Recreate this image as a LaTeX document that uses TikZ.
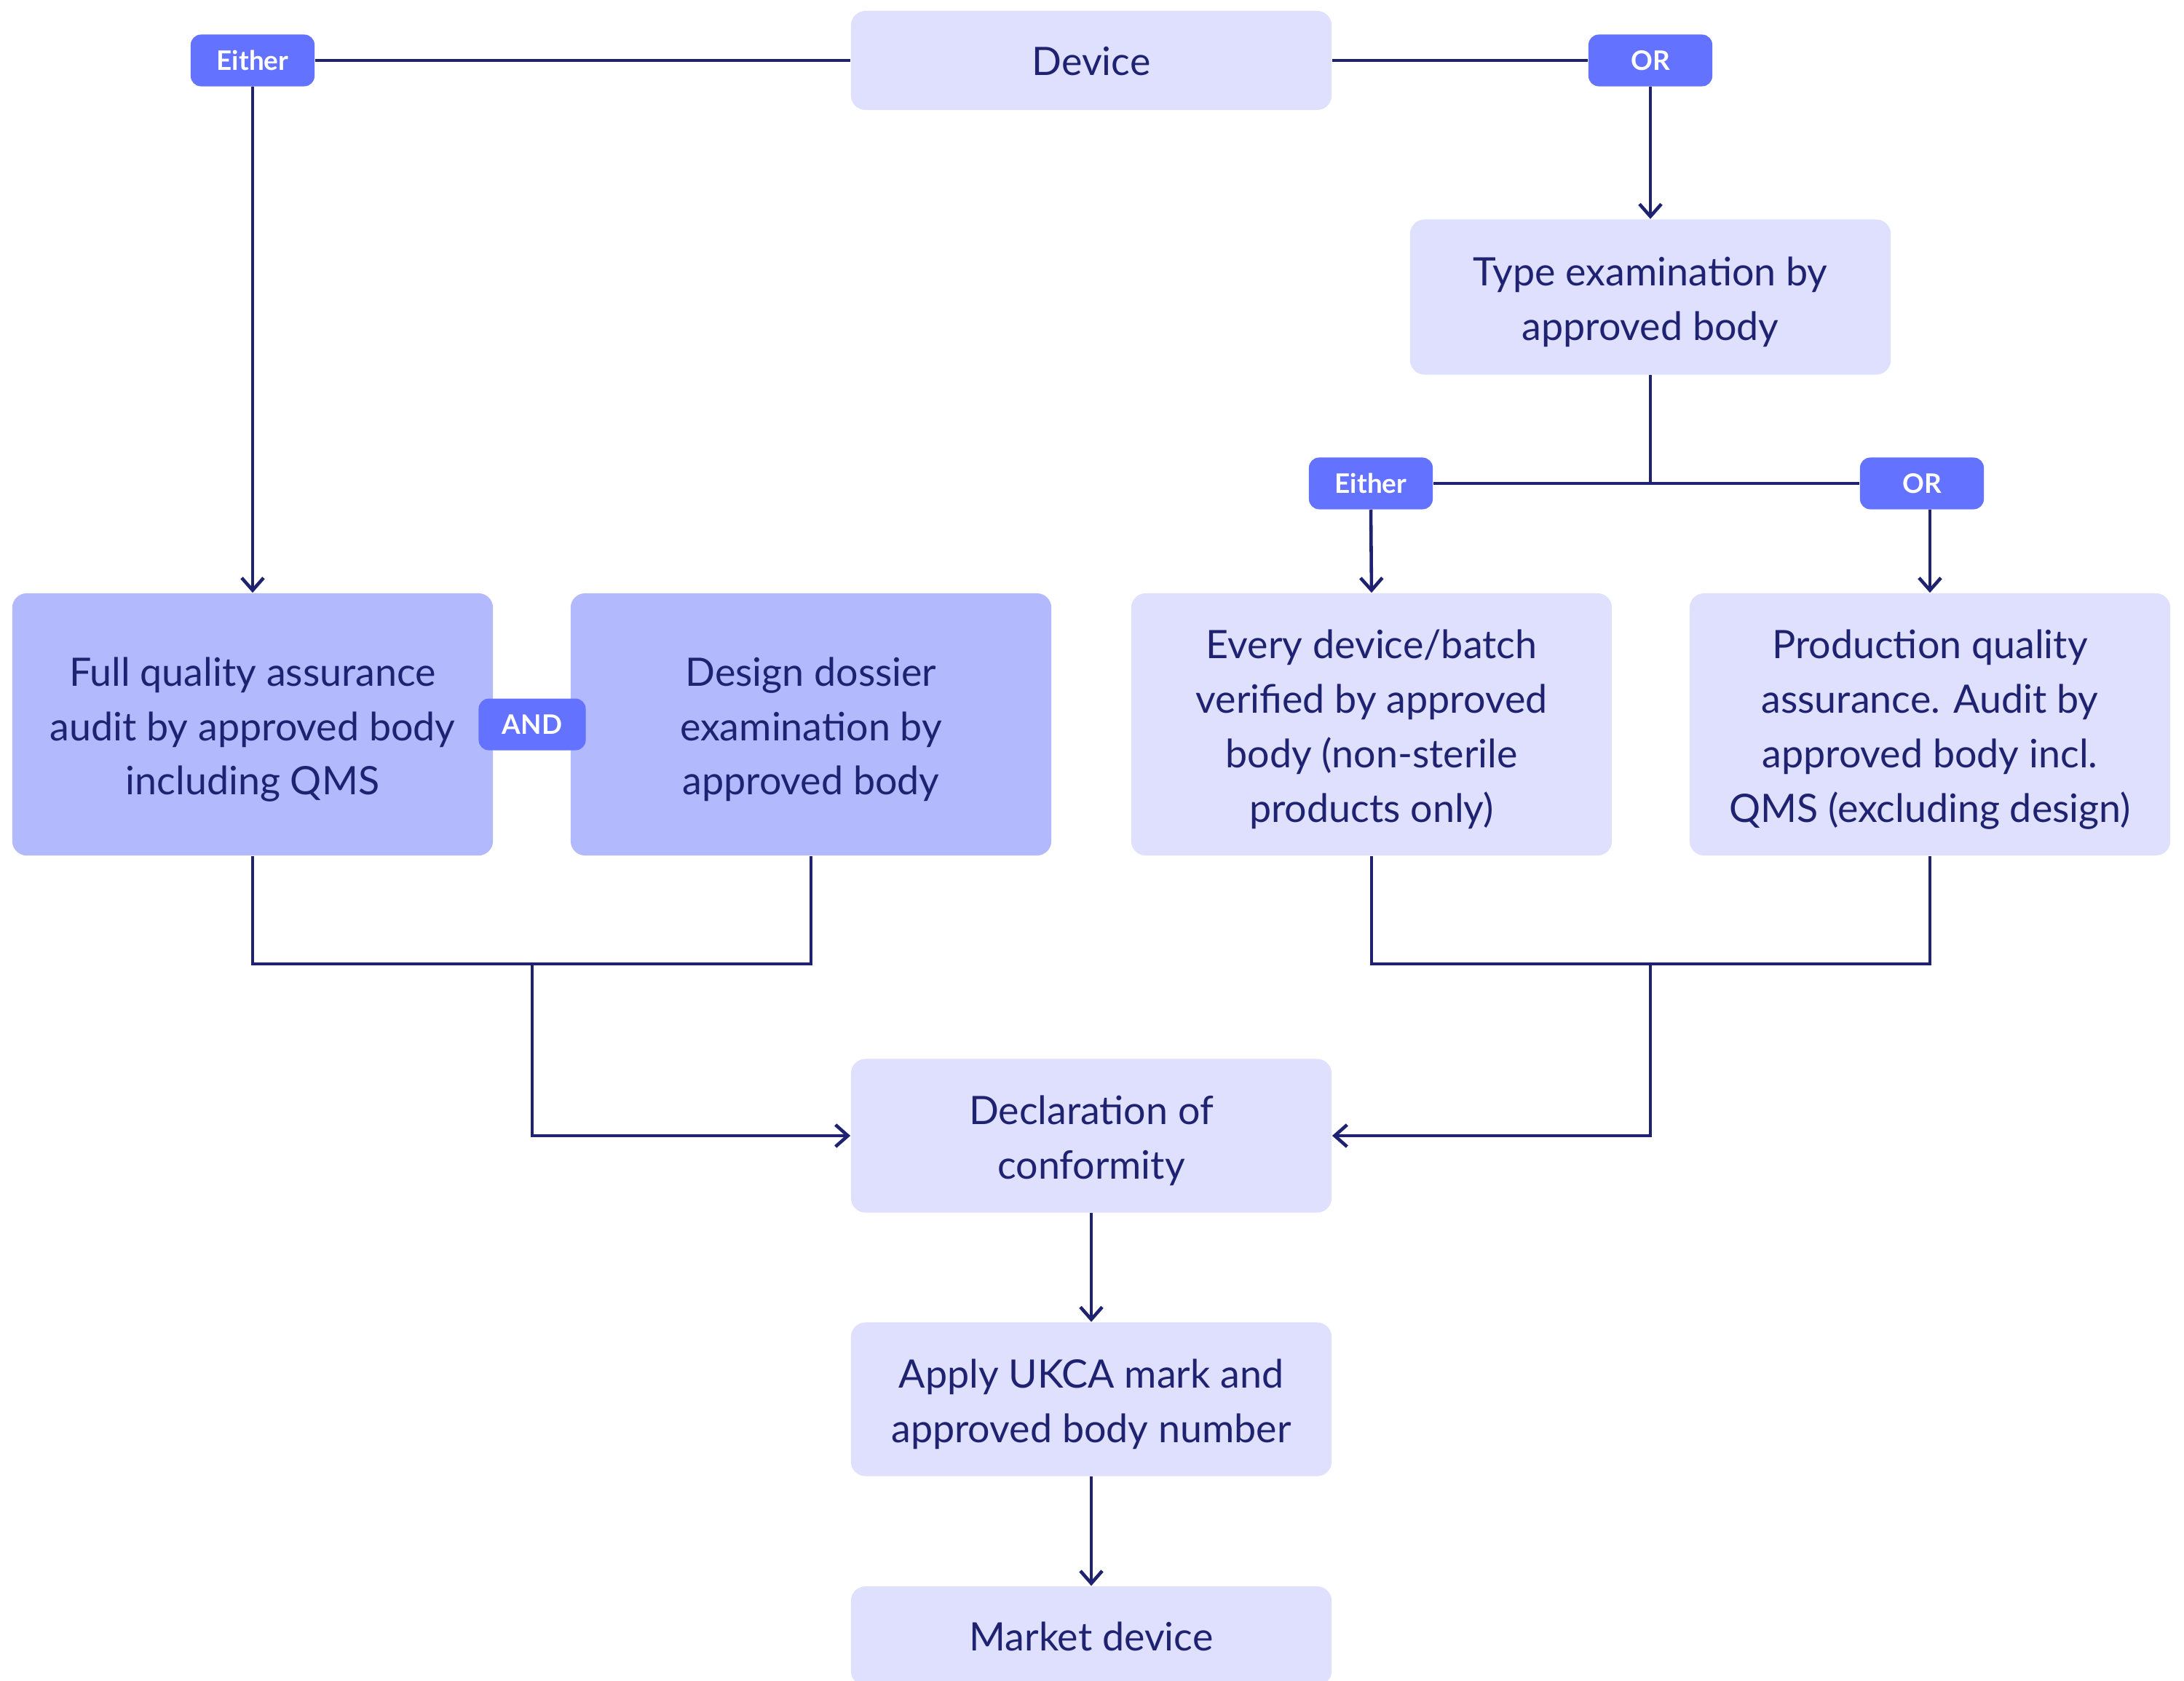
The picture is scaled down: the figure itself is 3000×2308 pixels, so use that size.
\documentclass[tikz,border=0pt]{standalone}
\usepackage{fontspec}
\setmainfont{Lato}
\usetikzlibrary{arrows.meta,calc}
\definecolor{navy}{HTML}{1E2270}
\definecolor{lightbox}{HTML}{DEE0FD}
\definecolor{darkbox}{HTML}{B3B9FD}
\definecolor{badgeblue}{HTML}{6473FF}
\newcommand\btext[2][2pt]{\raisebox{-#1}[\height][\depth]{\begin{tabular}{@{}c@{}}#2\end{tabular}}}
\tikzset{
  boxnode/.style={rounded corners=0.2cm, fill=lightbox, text=navy,
    font=\fontsize{15.3}{21.3}\selectfont, inner sep=0pt, minimum width=6.6cm},
  darkboxnode/.style={boxnode, fill=darkbox},
  badge/.style={rounded corners=0.14cm, fill=badgeblue, text=white, inner sep=0pt,
    font=\fontsize{10.5}{12}\selectfont\bfseries, minimum width=1.7cm, minimum height=0.71cm},
  conn/.style={draw=navy, line width=1.3pt},
  arr/.style={conn, -{Straight Barb[length=0.17cm,width=0.3cm]}}
}
\begin{document}
\begin{tikzpicture}[x=0.01cm,y=-0.01cm]
\path[use as bounding box, fill=white] (0,0) rectangle (3000,2308);
\clip (0,0) rectangle (3000,2308);
% boxes
\node[boxnode, minimum height=1.36cm] (device) at (1499,83) {\btext[1.6pt]{Device}};
\node[boxnode, minimum height=2.13cm] (type) at (2267,408) {\btext{Type examination by\\approved body}};
\node[darkboxnode, minimum height=3.6cm] (fqa) at (347,995) {\btext{Full quality assurance\\audit by approved body\\including QMS}};
\node[darkboxnode, minimum height=3.6cm] (dd) at (1114,995) {\btext{Design dossier\\examination by\\approved body}};
\node[boxnode, minimum height=3.6cm] (every) at (1884,995) {\btext{Every device/batch\\verified by approved\\body (non-sterile\\products only)}};
\node[boxnode, minimum height=3.6cm] (prod) at (2651,995) {\btext{Production quality\\assurance. Audit by\\approved body incl.\\QMS (excluding design)}};
\node[boxnode, minimum height=2.11cm] (decl) at (1499,1560) {\btext{Declaration of\\conformity}};
\node[boxnode, minimum height=2.11cm] (apply) at (1499,1922) {\btext{Apply UKCA mark and\\approved body number}};
\node[boxnode, minimum height=1.36cm] (market) at (1499,2247) {\btext[1.6pt]{Market device}};
% badges
\node[badge] (either1) at (347,83) {Either};
\node[badge] (or1) at (2267,83) {OR};
\node[badge] (either2) at (1883,664) {Either};
\node[badge] (or2) at (2640,664) {OR};
\node[badge, minimum width=1.47cm] (and) at (731,995) {AND};
% connectors
\draw[conn] (device.west) -- (either1.east);
\draw[arr] (either1.south) -- (fqa.north);
\draw[conn] (device.east) -- (or1.west);
\draw[arr] (or1.south) -- (type.north);
\draw[conn] (type.south) -- (type.south |- either2.east);
\draw[conn] (either2.east) -- (or2.west);
\draw[arr] (either2.south) -- (every.north);
\draw[arr] (prod.north |- or2.south) -- (prod.north);
\coordinate (lm) at (731,1324);
\coordinate (rm) at (2267,1324);
\draw[conn] (fqa.south) -- (fqa.south |- lm) -- (dd.south |- lm) -- (dd.south);
\draw[arr] (lm) -- (lm |- decl.west) -- (decl.west);
\draw[conn] (every.south) -- (every.south |- rm) -- (prod.south |- rm) -- (prod.south);
\draw[arr] (rm) -- (rm |- decl.east) -- (decl.east);
\draw[arr] (decl.south) -- (apply.north);
\draw[arr] (apply.south) -- (market.north);
\end{tikzpicture}
\end{document}
